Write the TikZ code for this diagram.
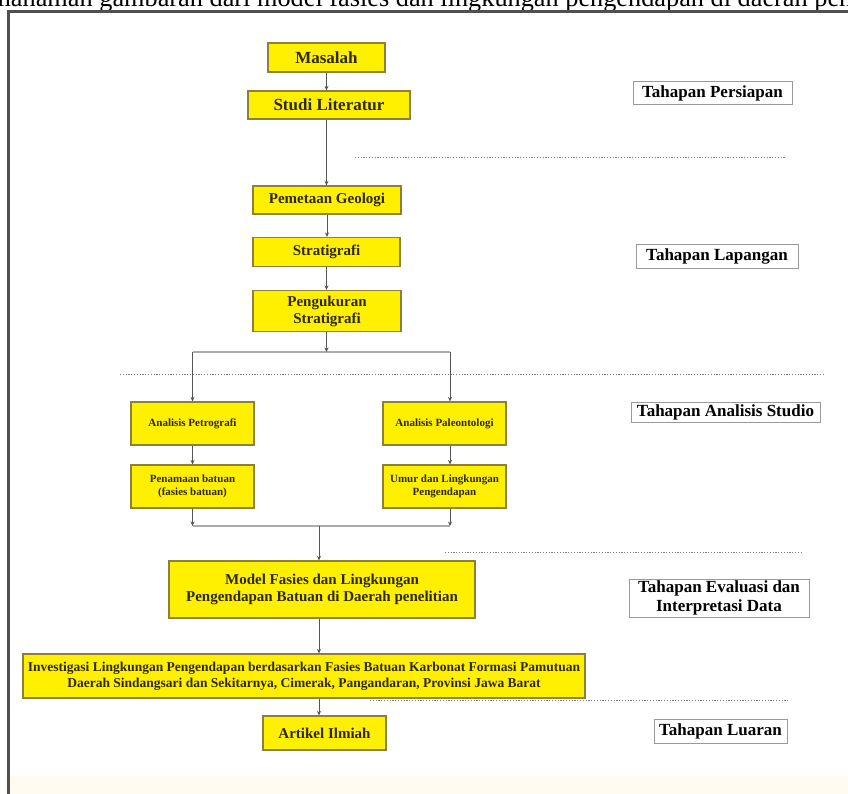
\documentclass[tikz,border=0pt]{standalone}
\usepackage{fontspec}
\setmainfont{Liberation Serif}
\usetikzlibrary{arrows.meta,calc}
\definecolor{yfill}{RGB}{255,240,0}
\definecolor{ydraw}{RGB}{140,128,60}
\definecolor{ytext}{RGB}{45,40,15}
\definecolor{conncol}{RGB}{85,85,85}
\definecolor{framecol}{RGB}{80,80,80}
\definecolor{cream}{RGB}{255,251,240}
\tikzset{
  ybox/.style={draw=ydraw, fill=yfill, line width=1.2pt, text=ytext, align=center, inner sep=0pt},
  lbox/.style={draw=gray!80, fill=white, line width=0.8pt, text=black, align=center, inner sep=0pt, font=\fontsize{17}{19}\selectfont\bfseries},
  conn/.style={draw=conncol, line width=0.9pt, -{Stealth[length=4.5pt,width=4pt]}},
  bar/.style={draw=gray!65, line width=2pt},
  dotline/.style={draw=gray, line width=1pt, dash pattern=on 1.2pt off 1.6pt}
}
\begin{document}
\begin{tikzpicture}[x=1pt,y=-1pt]
\useasboundingbox (0,0) rectangle (848,794);
\clip (0,0) rectangle (848,794);
\fill[white] (0,0) rectangle (848,794);
\fill[cream] (10,776) rectangle (848,794);
% cut-off caption at top
\node[anchor=base west, inner sep=0pt, font=\fontsize{26.3}{28}\selectfont] (caption) at (-34.5,7) {pemahaman gambaran dari model fasies dan lingkungan pengendapan di daerah penelitian};
% frame
\draw[framecol, line width=3pt] (8.5,800) -- (8.5,11.5) -- (860,11.5);

% main flow boxes
\node[ybox, minimum width=117pt, minimum height=29pt, font=\fontsize{17}{19}\selectfont\bfseries] (masalah) at (326.5,57.5) {Masalah};
\node[ybox, minimum width=162pt, minimum height=28pt, font=\fontsize{17}{19}\selectfont\bfseries] (studi) at (329,105) {Studi Literatur};
\node[ybox, minimum width=148pt, minimum height=28pt, font=\fontsize{15}{17}\selectfont\bfseries] (pemetaan) at (327,200) {Pemetaan Geologi};
\node[ybox, minimum width=147pt, minimum height=29pt, font=\fontsize{15}{17}\selectfont\bfseries] (strat) at (326.5,252) {Stratigrafi};
\node[ybox, minimum width=148pt, minimum height=41pt, font=\fontsize{15}{17}\selectfont\bfseries] (ukur) at (327,311) {Pengukuran\\Stratigrafi};
\node[ybox, minimum width=123pt, minimum height=43pt, font=\fontsize{11}{13}\selectfont\bfseries] (petro) at (192.5,423.5) {Analisis Petrografi};
\node[ybox, minimum width=123pt, minimum height=43pt, font=\fontsize{11}{13}\selectfont\bfseries] (paleo) at (444.5,423.5) {Analisis Paleontologi};
\node[ybox, minimum width=123pt, minimum height=43pt, font=\fontsize{11}{13}\selectfont\bfseries] (penamaan) at (192.5,486.5) {Penamaan batuan\\(fasies batuan)};
\node[ybox, minimum width=123pt, minimum height=43pt, font=\fontsize{11}{13}\selectfont\bfseries] (umur) at (444.5,486.5) {Umur dan Lingkungan\\Pengendapan};
\node[ybox, minimum width=306pt, minimum height=57pt, font=\fontsize{15}{17}\selectfont\bfseries] (model) at (322,589.5) {Model Fasies dan Lingkungan\\Pengendapan Batuan di Daerah penelitian};
\node[ybox, minimum width=562pt, minimum height=44pt, font=\fontsize{13.5}{16}\selectfont\bfseries] (invest) at (304,676) {Investigasi Lingkungan Pengendapan berdasarkan Fasies Batuan Karbonat Formasi Pamutuan\\Daerah Sindangsari dan Sekitarnya, Cimerak, Pangandaran, Provinsi Jawa Barat};
\node[ybox, minimum width=123pt, minimum height=34pt, font=\fontsize{15}{17}\selectfont\bfseries] (artikel) at (324.5,733) {Artikel Ilmiah};

% stage labels
\node[lbox, minimum width=159pt, minimum height=23pt] (persiapan) at (712.5,93) {Tahapan Persiapan};
\node[lbox, minimum width=162pt, minimum height=24pt] (lapangan) at (717,256) {Tahapan Lapangan};
\node[lbox, minimum width=189pt, minimum height=20pt] (analisis) at (725.5,412) {Tahapan Analisis Studio};
\node[lbox, minimum width=180pt, minimum height=38pt, font=\fontsize{17}{19}\selectfont\bfseries] (evaluasi) at (719,598) {Tahapan Evaluasi dan\\Interpretasi Data};
\node[lbox, minimum width=133pt, minimum height=24pt] (luaran) at (720.5,731) {Tahapan Luaran};

% dotted separators
\draw[dotline] (355,158) -- (785,158);
\draw[dotline] (120,374) -- (825,374);
\draw[dotline] (445,552) -- (802,552);
\draw[dotline] (370,700) -- (790,700);

% junction coordinates
\coordinate (split) at (326.5,352);
\coordinate (splitL) at (192.5,352);
\coordinate (splitR) at (450,352);
\coordinate (mergeL) at (192.5,526);
\coordinate (mergeR) at (450,526);
\coordinate (mergeC) at (319,526);

% connectors
\draw[conn] (masalah.south) -- (masalah.south |- studi.north);
\draw[conn] (studi.south -| masalah.south) -- (masalah.south |- pemetaan.north);
\draw[conn] (pemetaan.south) -- (pemetaan.south |- strat.north);
\draw[conn] (strat.south) -- (strat.south |- ukur.north);
\draw[bar] (splitL) -- (splitR);
\draw[conn] (ukur.south -| split) -- (split);
\draw[conn] (splitL) -- (splitL |- petro.north);
\draw[conn] (splitR) -- (splitR |- paleo.north);
\draw[conn] (petro.south) -- (petro.south |- penamaan.north);
\draw[conn] (paleo.south -| splitR) -- (splitR |- umur.north);
\draw[bar] (mergeL) -- (mergeR);
\draw[conn] (penamaan.south) -- (mergeL);
\draw[conn] (umur.south -| mergeR) -- (mergeR);
\draw[conn] (mergeC) -- (mergeC |- model.north);
\draw[conn] (model.south -| mergeC) -- (mergeC |- invest.north);
\draw[conn] (invest.south -| mergeC) -- (mergeC |- artikel.north);
\end{tikzpicture}
\end{document}
